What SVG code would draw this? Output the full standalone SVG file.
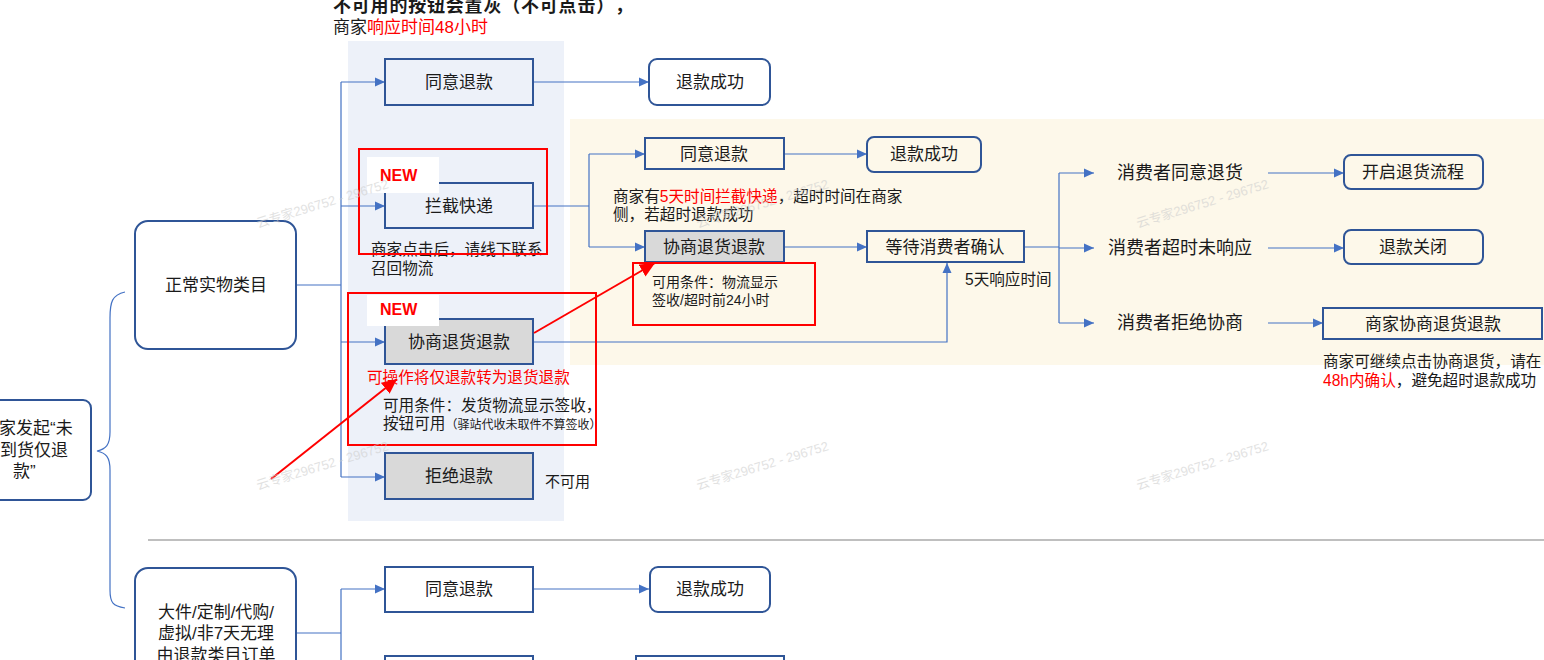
<svg xmlns="http://www.w3.org/2000/svg" width="1544" height="660" viewBox="0 0 1544 660">
<defs>
<marker id="ab" markerUnits="userSpaceOnUse" markerWidth="11" markerHeight="10" refX="10" refY="5" orient="auto"><path d="M0,0.5 L10,5 L0,9.5 Z" fill="#4472c4"/></marker>
<marker id="ar" markerUnits="userSpaceOnUse" markerWidth="16" markerHeight="14" refX="15" refY="7" orient="auto"><path d="M0,0 L15,7 L0,14 Z" fill="#ff0000"/></marker>
<style>
text{font-family:"Liberation Sans","Noto Sans CJK SC",sans-serif;fill:#1a1a1a;text-spacing-trim:space-all}
.lb{font-size:17px;text-anchor:middle}
.lg{font-size:18px;text-anchor:middle}
.nt{font-size:15.6px}
.sm{font-size:14px}
.red{fill:#ff0000}
.box{fill:none;stroke:#2f5597;stroke-width:2}
.grey{fill:#d9d9d9;stroke:#2f5597;stroke-width:2}
.wbox{fill:#ffffff;stroke:#2f5597;stroke-width:2}
.cn{fill:none;stroke:#4472c4;stroke-width:1.2}
.rbox{fill:none;stroke:#ff0000;stroke-width:2}
.rl{stroke:#ff0000;stroke-width:2;fill:none}
.new{font-size:16px;font-weight:bold;fill:#ff0000}
.wm{font-size:13px;fill:#cfcfcf;opacity:0.6}
</style>
</defs>

<g id="backgrounds">
<rect x="348" y="41" width="216" height="480" fill="#edf1f9"/>
<rect x="570" y="119" width="974" height="246" fill="#fdf8ea"/>
<line x1="148" y1="540" x2="1544" y2="540" stroke="#bfbfbf" stroke-width="2"/>
</g>

<g id="title">
<text x="333" y="12" style="font-size:18px;font-weight:bold;letter-spacing:0.8px">不可用的按钮会置灰（不可点击），</text>
<text x="333" y="33" style="font-size:17px">商家<tspan class="red">响应时间48小时</tspan></text>
</g>

<g id="connectors">
<path class="cn" d="M125,292 C112,295 110,302 110,318 V432 C110,445 106,449 97,451 C106,453 110,457 110,470 V590 C110,603 113,606 125,608"/>
<path class="cn" d="M296,285 H341 M341,82 V477"/>
<path class="cn" marker-end="url(#ab)" d="M341,82 H385"/>
<path class="cn" marker-end="url(#ab)" d="M341,206 H385"/>
<path class="cn" marker-end="url(#ab)" d="M341,342 H385"/>
<path class="cn" marker-end="url(#ab)" d="M341,477 H385"/>
<path class="cn" marker-end="url(#ab)" d="M534,82 H649"/>
<path class="cn" d="M534,206 H589 M589,154 V247"/>
<path class="cn" marker-end="url(#ab)" d="M589,154 H645"/>
<path class="cn" marker-end="url(#ab)" d="M589,247 H645"/>
<path class="cn" marker-end="url(#ab)" d="M784,154 H867"/>
<path class="cn" marker-end="url(#ab)" d="M784,247 H867"/>
<path class="cn" marker-end="url(#ab)" d="M534,342 H947 V263"/>
<path class="cn" d="M1024,247 H1059 M1059,173 V323"/>
<path class="cn" marker-end="url(#ab)" d="M1059,173 H1094"/>
<path class="cn" marker-end="url(#ab)" d="M1059,248 H1094"/>
<path class="cn" marker-end="url(#ab)" d="M1059,323 H1094"/>
<path class="cn" marker-end="url(#ab)" d="M1268,173 H1344"/>
<path class="cn" marker-end="url(#ab)" d="M1268,248 H1344"/>
<path class="cn" marker-end="url(#ab)" d="M1268,323 H1323"/>
<path class="cn" d="M296,633 H341 M341,589 V660"/>
<path class="cn" marker-end="url(#ab)" d="M341,589 H385"/>
<path class="cn" marker-end="url(#ab)" d="M533,589 H649"/>
</g>

<g id="n-start">
<rect class="wbox" x="-10" y="400" width="101" height="100" rx="8"/>
<text x="-1" y="434" style="font-size:17px">家发起“未</text>
<text x="0" y="456" style="font-size:17px">到货仅退</text>
<text x="13" y="477" style="font-size:17px">款”</text>
</g>

<g id="n-normal">
<rect class="wbox" x="135" y="221" width="161" height="128" rx="13"/>
<text class="lb" x="216" y="291">正常实物类目</text>
</g>

<g id="n-special">
<rect class="wbox" x="135" y="568" width="161" height="110" rx="13"/>
<text class="lb" x="216" y="618">大件/定制/代购/</text>
<text class="lb" x="216" y="639">虚拟/非7天无理</text>
<text class="lb" x="216" y="661">由退款类目订单</text>
</g>

<g id="n-agree1">
<rect class="box" x="385" y="59" width="148" height="46"/>
<text class="lb" x="459" y="88">同意退款</text>
</g>
<g id="n-success1">
<rect class="wbox" x="649" y="59" width="121" height="46" rx="8"/>
<text class="lb" x="710" y="88">退款成功</text>
</g>

<g id="n-intercept">
<rect class="box" x="385" y="183" width="148" height="45"/>
<text class="lb" x="459" y="212">拦截快递</text>
</g>

<g id="n-negotiate">
<rect class="grey" x="385" y="319" width="148" height="45"/>
<text class="lb" x="459" y="348">协商退货退款</text>
</g>

<g id="n-reject">
<rect class="grey" x="385" y="453" width="148" height="46"/>
<text class="lb" x="459" y="482">拒绝退款</text>
<text x="545" y="487" style="font-size:15px">不可用</text>
</g>

<g id="n-agree2">
<rect class="box" x="645" y="138" width="139" height="31"/>
<text class="lb" x="714" y="160">同意退款</text>
</g>
<g id="n-success2">
<rect class="box" x="867" y="137" width="114" height="35" rx="7"/>
<text class="lb" x="924" y="160">退款成功</text>
</g>

<g id="n-negotiate2">
<rect class="grey" x="645" y="231" width="139" height="31"/>
<text class="lb" x="714" y="253">协商退货退款</text>
</g>

<g id="n-wait">
<rect class="box" x="867" y="231" width="157" height="31"/>
<text class="lb" x="945" y="253">等待消费者确认</text>
</g>

<g id="n-c-agree"><text class="lg" x="1180" y="179">消费者同意退货</text></g>
<g id="n-c-timeout"><text class="lg" x="1180" y="254">消费者超时未响应</text></g>
<g id="n-c-refuse"><text class="lg" x="1180" y="329">消费者拒绝协商</text></g>

<g id="n-return">
<rect class="box" x="1344" y="155" width="139" height="34" rx="7"/>
<text class="lb" x="1413" y="178">开启退货流程</text>
</g>
<g id="n-close">
<rect class="box" x="1344" y="230" width="139" height="34" rx="7"/>
<text class="lb" x="1413" y="253">退款关闭</text>
</g>
<g id="n-merchant-neg">
<rect class="box" x="1323" y="308" width="219" height="31"/>
<text class="lb" x="1433" y="330">商家协商退货退款</text>
</g>

<g id="n-bottom-agree">
<rect class="box" x="385" y="567" width="148" height="45"/>
<text class="lb" x="459" y="595">同意退款</text>
</g>
<g id="n-bottom-success">
<rect class="box" x="650" y="567" width="120" height="45" rx="8"/>
<text class="lb" x="710" y="595">退款成功</text>
</g>
<g id="n-bottom-a"><rect class="box" x="385" y="656" width="148" height="20"/></g>
<g id="n-bottom-b"><rect class="box" x="636" y="656" width="148" height="20"/></g>

<g id="notes">
<text class="nt" x="371" y="255">商家点击后，请线下联系</text>
<text class="nt" x="371" y="274">召回物流</text>
<text class="nt red" x="367" y="383">可操作将仅退款转为退货退款</text>
<text class="nt" x="383" y="411">可用条件：发货物流显示签收，</text>
<text class="nt" x="383" y="429">按钮可用<tspan style="font-size:12px">（驿站代收未取件不算签收）</tspan></text>
<text class="nt" x="613" y="202">商家有<tspan class="red">5天时间拦截快递</tspan>，超时时间在商家</text>
<text class="nt" x="613" y="220">侧，若超时退款成功</text>
<text class="sm" x="652" y="287">可用条件：物流显示</text>
<text class="sm" x="652" y="305">签收/超时前24小时</text>
<text class="nt" x="965" y="285">5天响应时间</text>
<text class="nt" x="1323" y="367">商家可继续点击协商退货，请在</text>
<text class="nt" x="1323" y="386"><tspan class="red">48h内确认</tspan>，避免超时退款成功</text>
</g>

<g id="highlights">
<rect class="rbox" x="359" y="149" width="188" height="105"/>
<rect x="367" y="157" width="72" height="36" fill="#ffffff"/>
<text class="new" x="380" y="181">NEW</text>
<rect class="rbox" x="348" y="293" width="248" height="152"/>
<rect x="367" y="295" width="72" height="31" fill="#ffffff"/>
<text class="new" x="380" y="315">NEW</text>
<rect class="rbox" x="633" y="263" width="182" height="62"/>
<line class="rl" x1="271" y1="479" x2="397" y2="379" marker-end="url(#ar)"/>
<line class="rl" x1="534" y1="333" x2="655" y2="263" marker-end="url(#ar)"/>
</g>

<g id="watermarks">
<text class="wm" x="258" y="228" transform="rotate(-17 258 228)">云专家296752 - 296752</text>
<text class="wm" x="698" y="228" transform="rotate(-17 698 228)">云专家296752 - 296752</text>
<text class="wm" x="1138" y="228" transform="rotate(-17 1138 228)">云专家296752 - 296752</text>
<text class="wm" x="258" y="490" transform="rotate(-17 258 490)">云专家296752 - 296752</text>
<text class="wm" x="698" y="490" transform="rotate(-17 698 490)">云专家296752 - 296752</text>
<text class="wm" x="1138" y="490" transform="rotate(-17 1138 490)">云专家296752 - 296752</text>
</g>
</svg>
